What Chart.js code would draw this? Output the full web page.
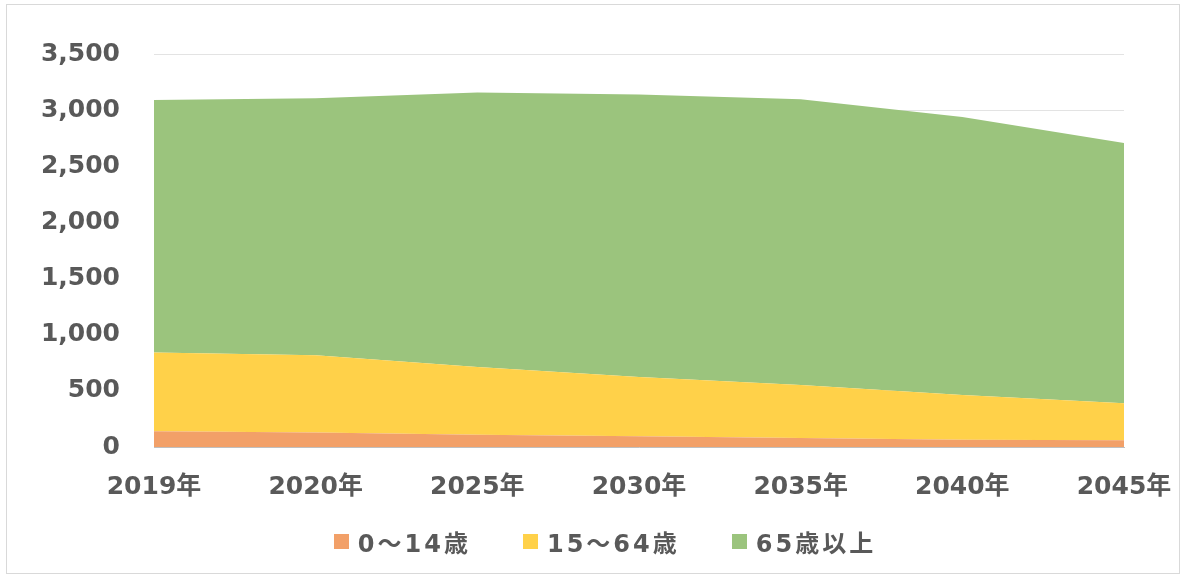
<!DOCTYPE html>
<html><head><meta charset="utf-8">
<script src="https://cdn.jsdelivr.net/npm/chart.js@4/dist/chart.umd.min.js"></script>
<style>
html,body{margin:0;padding:0;background:#fff;}
#wrap{position:absolute;left:6px;top:4px;width:1174px;height:570px;border:1px solid #d9d9d9;box-sizing:border-box;}
canvas{position:absolute;left:0;top:0;}
#legend{position:absolute;left:0;width:1210px;top:527px;height:28px;display:flex;justify-content:center;align-items:center;
  font-family:"DejaVu Sans","Noto Sans CJK JP",sans-serif;font-weight:bold;font-size:24px;letter-spacing:3px;color:#595959;}
#legend .item{display:flex;align-items:center;margin:0 26px;white-space:nowrap;}
#legend .box{width:15px;height:15px;margin-right:9px;}
</style></head>
<body>
<div id="wrap"></div>
<canvas id="c" width="1186" height="579"></canvas>
<div id="legend"></div>
<script>
const categories = ['2019年','2020年','2025年','2030年','2035年','2040年','2045年'];
const seriesNames = ['0〜14歳','15〜64歳','65歳以上'];
const age0_14  = [140, 130, 110, 95, 80, 65, 60];
const age15_64 = [702, 688, 602, 528, 472, 398, 329];
const age65    = [2248, 2287, 2446, 2517, 2544, 2476, 2318];
const yTicks = [0,500,1000,1500,2000,2500,3000,3500];
const colors = ['#F2A068','#FFD149','#9BC47D'];

const FONT = '"DejaVu Sans","Noto Sans CJK JP",sans-serif';
const chart = new Chart(document.getElementById('c'), {
  type: 'line',
  data: {
    labels: categories,
    datasets: [
      {label:seriesNames[0], data: age0_14, backgroundColor:colors[0], borderWidth:0, pointRadius:0, fill:'origin'},
      {label:seriesNames[1], data: age15_64, backgroundColor:colors[1], borderWidth:0, pointRadius:0, fill:'-1'},
      {label:seriesNames[2], data: age65, backgroundColor:colors[2], borderWidth:0, pointRadius:0, fill:'-1'}
    ]
  },
  options: {
    responsive:false, animation:false,
    layout:{padding:{left:20,right:62,top:54,bottom:52}},
    plugins:{ legend:{display:false}, tooltip:{enabled:false} },
    scales:{
      x:{offset:false, grid:{display:false, drawTicks:false}, border:{color:'#bfbfbf', width:1},
         afterFit:(s)=>{s.paddingRight=0; s.paddingLeft=0;},
         ticks:{color:'#595959', font:{family:FONT,size:25,weight:'bold'}, padding:25, maxRotation:0, autoSkip:false}},
      y:{stacked:true, min:0, max:3500, afterBuildTicks:(s)=>{s.ticks=yTicks.map(v=>({value:v}));},
         afterFit:(s)=>{s.width=134;},
         grid:{color:'#e3e3e3', drawTicks:false}, border:{display:false},
         ticks:{color:'#595959', font:{family:FONT,size:25,weight:'bold'}, padding:34,
           callback:(v)=>v.toLocaleString('en-US')}}
    }
  }
});
const lg = document.getElementById('legend');
chart.data.datasets.forEach(ds=>{
  const it=document.createElement('div'); it.className='item';
  const b=document.createElement('span'); b.className='box'; b.style.background=ds.backgroundColor;
  const t=document.createElement('span'); t.textContent=ds.label;
  it.appendChild(b); it.appendChild(t); lg.appendChild(it);
});
</script>
</body></html>
